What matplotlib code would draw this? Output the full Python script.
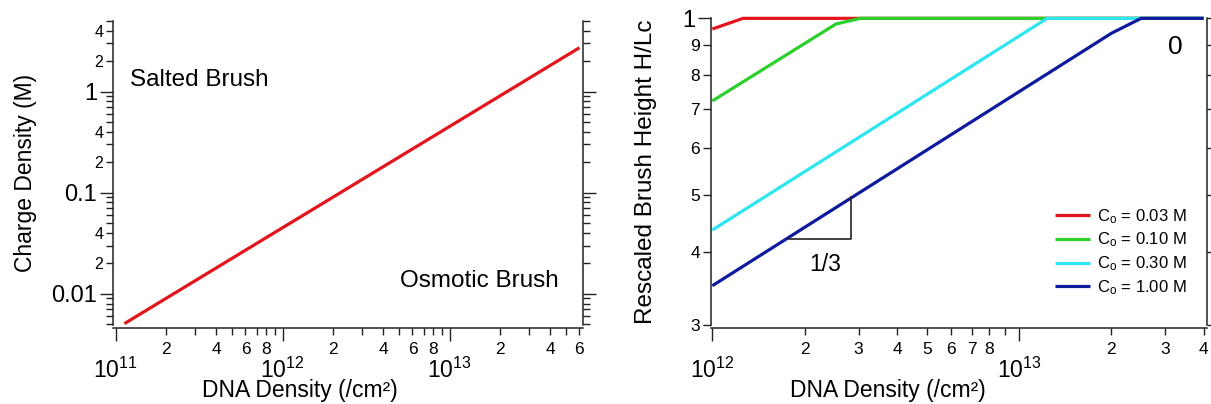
import matplotlib
matplotlib.use('Agg')
import matplotlib.pyplot as plt
from matplotlib.ticker import FixedLocator, FixedFormatter

plt.rcParams['font.family'] = ['Liberation Sans', 'DejaVu Sans']
plt.rcParams['mathtext.fontset'] = 'custom'
plt.rcParams['mathtext.rm'] = 'Liberation Sans'
plt.rcParams['mathtext.it'] = 'Liberation Sans:italic'
plt.rcParams['mathtext.bf'] = 'Liberation Sans:bold'
plt.rcParams['mathtext.default'] = 'regular'

# ---------------- data: left panel ----------------
dna_left = [1.13e11, 6.0e13]
charge_left = [0.00506, 2.72]

left_x_major = [1e11, 1e12, 1e13]
left_x_major_labels = ['$10^{11}$', '$10^{12}$', '$10^{13}$']
left_x_minor = [2e11, 3e11, 4e11, 5e11, 6e11, 7e11, 8e11, 9e11,
                2e12, 3e12, 4e12, 5e12, 6e12, 7e12, 8e12, 9e12,
                2e13, 3e13, 4e13, 5e13, 6e13]
left_x_minor_labels = ['2', '', '4', '', '6', '', '8', '',
                       '2', '', '4', '', '6', '', '8', '',
                       '2', '', '4', '', '6']
left_y_major = [0.01, 0.1, 1]
left_y_major_labels = ['0.01', '0.1', '1']
left_y_minor = [0.005, 0.006, 0.007, 0.008, 0.009,
                0.02, 0.03, 0.04, 0.05, 0.06, 0.07, 0.08, 0.09,
                0.2, 0.3, 0.4, 0.5, 0.6, 0.7, 0.8, 0.9,
                2, 3, 4, 5]
left_y_minor_labels = ['', '', '', '', '',
                       '2', '', '4', '', '', '', '', '',
                       '2', '', '4', '', '', '', '', '',
                       '2', '', '4', '']

# ---------------- data: right panel ----------------
dna_red = [1.0e12, 1.26e12, 4.0e13]
h_red = [0.959, 1.0, 1.0]
dna_green = [1.0e12, 2.53e12, 3.04e12, 4.0e13]
h_green = [0.723, 0.978, 1.0, 1.0]
dna_cyan = [1.0e12, 1.235e13, 4.0e13]
h_cyan = [0.4355, 1.0, 1.0]
dna_blue = [1.0e12, 2.0e13, 2.5e13, 4.0e13]
h_blue = [0.350, 0.943, 1.0, 1.0]
legend_labels = ['C$_{o}$ = 0.03 M', 'C$_{o}$ = 0.10 M',
                 'C$_{o}$ = 0.30 M', 'C$_{o}$ = 1.00 M']

slope_x = [1.78e12, 2.83e12, 2.83e12]
slope_y = [0.420, 0.420, 0.495]

right_x_major = [1e12, 1e13]
right_x_major_labels = ['$10^{12}$', '$10^{13}$']
right_x_minor = [2e12, 3e12, 4e12, 5e12, 6e12, 7e12, 8e12, 9e12,
                 2e13, 3e13, 4e13]
right_x_minor_labels = ['2', '3', '4', '5', '6', '7', '8', '',
                        '2', '3', '4']
right_y_major = [1.0]
right_y_major_labels = ['1']
right_y_minor = [0.3, 0.4, 0.5, 0.6, 0.7, 0.8, 0.9]
right_y_minor_labels = ['3', '4', '5', '6', '7', '8', '9']

RED = '#e3141c'
GREEN = '#2ccf2c'
CYAN = '#2ee6f2'
BLUE = '#0e1a9c'
AXC = '#222222'

fig = plt.figure(figsize=(12.11, 4.04), dpi=100)
ax1 = fig.add_axes([0.0933, 0.1955, 0.3881, 0.7525])
ax2 = fig.add_axes([0.5871, 0.1955, 0.4096, 0.7591])


def style(ax):
    ax.spines['top'].set_visible(False)
    for s in ['left', 'right', 'bottom']:
        ax.spines[s].set_linewidth(1.1)
        ax.spines[s].set_color(AXC)
    ax.spines['bottom'].set_position(('outward', 2.5))
    ax.tick_params(which='both', direction='out', right=True, top=False,
                   labelright=False, color=AXC, width=1.0)
    ax.tick_params(which='major', length=9.5)
    ax.tick_params(which='minor', length=5)
    ax.tick_params(axis='x', which='major', pad=11.5, labelsize=16.5)
    ax.tick_params(axis='x', which='minor', pad=5, labelsize=12.5)
    ax.tick_params(axis='y', which='major', pad=2, labelsize=17)
    ax.tick_params(axis='y', which='minor', pad=2, labelsize=11.5)


# ---------------- left panel ----------------
ax1.plot(dna_left, charge_left, color=RED, lw=2.3, solid_capstyle='butt')
ax1.set_xscale('log')
ax1.set_yscale('log')
ax1.set_xlim(0.965e11, 6.3e13)
ax1.set_ylim(0.0049, 5.0)
style(ax1)
ax1.xaxis.set_major_locator(FixedLocator(left_x_major))
ax1.xaxis.set_major_formatter(FixedFormatter(left_x_major_labels))
ax1.xaxis.set_minor_locator(FixedLocator(left_x_minor))
ax1.xaxis.set_minor_formatter(FixedFormatter(left_x_minor_labels))
ax1.yaxis.set_major_locator(FixedLocator(left_y_major))
ax1.yaxis.set_major_formatter(FixedFormatter(left_y_major_labels))
ax1.yaxis.set_minor_locator(FixedLocator(left_y_minor))
ax1.yaxis.set_minor_formatter(FixedFormatter(left_y_minor_labels))
ax1.set_xlabel('DNA Density (/cm²)', fontsize=16.5)
ax1.xaxis.set_label_coords(0.398, -0.179)
ax1.set_ylabel('Charge Density (M)', fontsize=16.5)
ax1.yaxis.set_label_coords(-0.162, 0.5)
ax1.text(0.036, 0.806, 'Salted Brush', transform=ax1.transAxes,
         fontsize=17.5, ha='left', va='center')
ax1.text(0.949, 0.145, 'Osmotic Brush', transform=ax1.transAxes,
         fontsize=17.5, ha='right', va='center')

# ---------------- right panel ----------------
for xs, ys, c, lab in [(dna_red, h_red, RED, legend_labels[0]),
                       (dna_green, h_green, GREEN, legend_labels[1]),
                       (dna_cyan, h_cyan, CYAN, legend_labels[2]),
                       (dna_blue, h_blue, BLUE, legend_labels[3])]:
    ax2.plot(xs, ys, color=c, lw=2.3, label=lab, clip_on=False,
             solid_capstyle='butt')
ax2.plot(slope_x, slope_y, color='#222222', lw=1.2)
ax2.set_xscale('log')
ax2.set_yscale('log')
ax2.set_xlim(0.99e12, 4.1e13)
ax2.set_ylim(0.3, 1.0)
style(ax2)
ax2.xaxis.set_major_locator(FixedLocator(right_x_major))
ax2.xaxis.set_major_formatter(FixedFormatter(right_x_major_labels))
ax2.xaxis.set_minor_locator(FixedLocator(right_x_minor))
ax2.xaxis.set_minor_formatter(FixedFormatter(right_x_minor_labels))
ax2.yaxis.set_major_locator(FixedLocator(right_y_major))
ax2.yaxis.set_major_formatter(FixedFormatter(right_y_major_labels))
ax2.yaxis.set_minor_locator(FixedLocator(right_y_minor))
ax2.yaxis.set_minor_formatter(FixedFormatter(right_y_minor_labels))
ax2.tick_params(axis='y', which='minor', length=6, labelsize=12.5)
ax2.tick_params(axis='y', which='major', labelsize=17)
ax2.set_xlabel('DNA Density (/cm²)', fontsize=16.5)
ax2.xaxis.set_label_coords(0.357, -0.177)
ax2.set_ylabel('Rescaled Brush Height H/Lc', fontsize=17.5)
ax2.yaxis.set_label_coords(-0.109, 0.5)
ax2.text(2.33e12, 0.38, '1/3', fontsize=16.5, ha='center', va='center')
ax2.text(3.22e13, 0.894, '0', fontsize=19, ha='center', va='center')
ax2.legend(loc='upper left', bbox_to_anchor=(0.694, 0.385), frameon=False,
           fontsize=12, handlelength=2.1, handletextpad=0.4,
           labelspacing=0.3, borderpad=0, borderaxespad=0)

fig.savefig('out.png', dpi=100)
